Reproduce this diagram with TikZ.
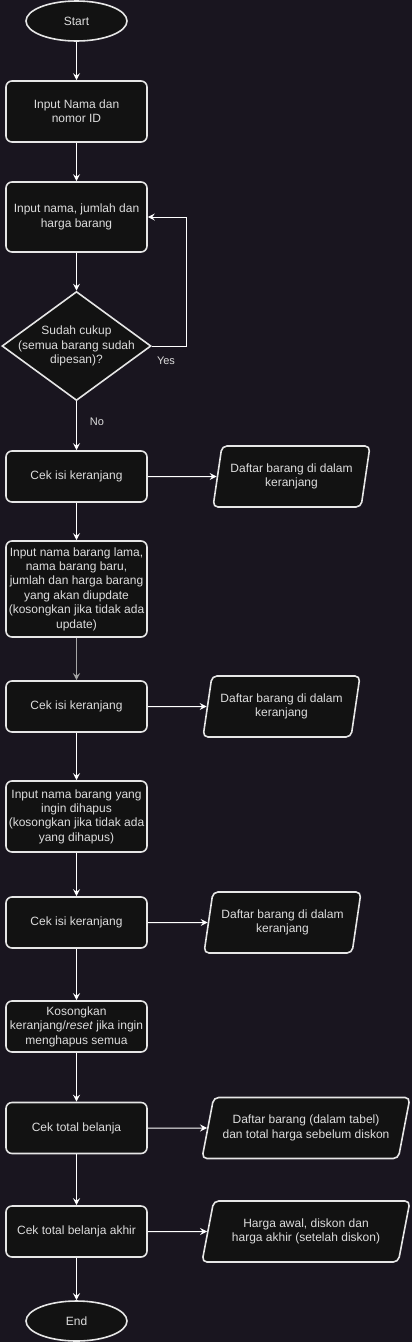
\documentclass[tikz,border=0pt]{standalone}
\usepackage{fontspec}
\setmainfont{Liberation Sans}
\usetikzlibrary{shapes.geometric,arrows.meta}
\definecolor{bgc}{HTML}{19151F}
\definecolor{boxfill}{HTML}{121212}
\definecolor{boxline}{HTML}{E6E6E6}
\definecolor{txtc}{HTML}{DDDDDD}
\definecolor{grayarrow}{HTML}{A6A6A6}
\tikzset{
  base/.style={draw=boxline, line width=1.6pt, fill=boxfill, text=txtc, align=center,
    font=\fontsize{12}{14.4}\selectfont, inner sep=1pt},
  proc/.style={base, rectangle, rounded corners=6pt, minimum width=141pt},
  term/.style={base, ellipse, minimum width=101pt, minimum height=40pt},
  dec/.style={base, diamond, inner sep=0pt, minimum width=149pt, minimum height=109pt},
  io/.style={base, trapezium, trapezium left angle=72, trapezium right angle=108,
    trapezium stretches body, rounded corners=5pt, minimum height=61pt},
  iowide/.style={io, trapezium left angle=67, trapezium right angle=113, minimum width=208pt},
  conn/.style={draw=white, line width=1pt, -{Stealth[length=7pt,width=7pt,inset=2.5pt]}},
  lbl/.style={text=txtc, font=\fontsize{11}{13}\selectfont, inner sep=0pt},
  inner/.style={text=txtc, align=center, font=\fontsize{12}{14.4}\selectfont, inner sep=0pt}
}
\begin{document}
\begin{tikzpicture}[x=1pt,y=-1pt]
\fill[bgc] (0,0) rectangle (412,1342);
\useasboundingbox (0,0) rectangle (412,1342);

\node[term] (start) at (76.5,21) {Start};
\node[proc, minimum height=61pt] (in1) at (76.5,111.5) {Input Nama dan\\nomor ID};
\node[proc, minimum height=70pt] (in2) at (76.5,217) {Input nama, jumlah dan\\harga barang};
\node[dec] (dc) at (76.5,346) {};
\node[inner] (dctext) at (dc.center) {Sudah cukup\\(semua barang sudah\\dipesan)?};
\node[proc, minimum height=51pt] (c1) at (76.5,476.5) {Cek isi keranjang};
\node[io, minimum width=157pt] (p1) at (291.5,476.5) {Daftar barang di dalam\\keranjang};
\node[proc, minimum height=96pt] (upd) at (76.5,589) {Input nama barang lama,\\nama barang baru,\\jumlah dan harga barang\\yang akan diupdate\\(kosongkan jika tidak ada\\update)};
\node[proc, minimum height=51pt] (c2) at (76.5,706.5) {Cek isi keranjang};
\node[io, minimum width=157pt] (p2) at (281.5,706.5) {Daftar barang di dalam\\keranjang};
\node[proc, minimum height=71pt] (del) at (76.5,816.5) {Input nama barang yang\\ingin dihapus\\(kosongkan jika tidak ada\\yang dihapus)};
\node[proc, minimum height=51pt] (c3) at (76.5,922.5) {Cek isi keranjang};
\node[io, minimum width=157pt] (p3) at (282.5,922.5) {Daftar barang di dalam\\keranjang};
\node[proc, minimum height=51pt] (kos) at (76.5,1026.5) {Kosongkan\\keranjang/\textit{reset} jika ingin\\menghapus semua};
\node[proc, minimum height=51pt] (tot) at (76.5,1128) {Cek total belanja};
\node[iowide] (p4) at (306,1128) {Daftar barang (dalam tabel)\\dan total harga sebelum diskon};
\node[proc, minimum height=51pt] (akh) at (76.5,1231.5) {Cek total belanja akhir};
\node[iowide] (p5) at (306,1231.5) {Harga awal, diskon dan\\harga akhir (setelah diskon)};
\node[term] (end) at (76.5,1321) {End};

\coordinate (loop) at (186,346);
\draw[conn] (start) -- (in1);
\draw[conn] (in1) -- (in2);
\draw[conn] (in2) -- (dc);
\draw[conn] (dc.east) -- (loop) |- (in2.east);
\node[lbl] (yes) at (166,361) {Yes};
\draw[conn] (dc.south) -- (c1.north);
\node[lbl] (no) at (97,422) {No};
\draw[conn] (c1.east) -- (p1.west);
\draw[conn] (c1) -- (upd);
\draw[conn, draw=grayarrow, line width=1.6pt] (upd) -- (c2);
\draw[conn] (c2.east) -- (p2.west);
\draw[conn] (c2) -- (del);
\draw[conn] (del) -- (c3);
\draw[conn] (c3.east) -- (p3.west);
\draw[conn] (c3) -- (kos);
\draw[conn] (kos) -- (tot);
\draw[conn] (tot.east) -- (p4.west);
\draw[conn] (tot) -- (akh);
\draw[conn] (akh.east) -- (p5.west);
\draw[conn] (akh) -- (end);
\end{tikzpicture}
\end{document}
